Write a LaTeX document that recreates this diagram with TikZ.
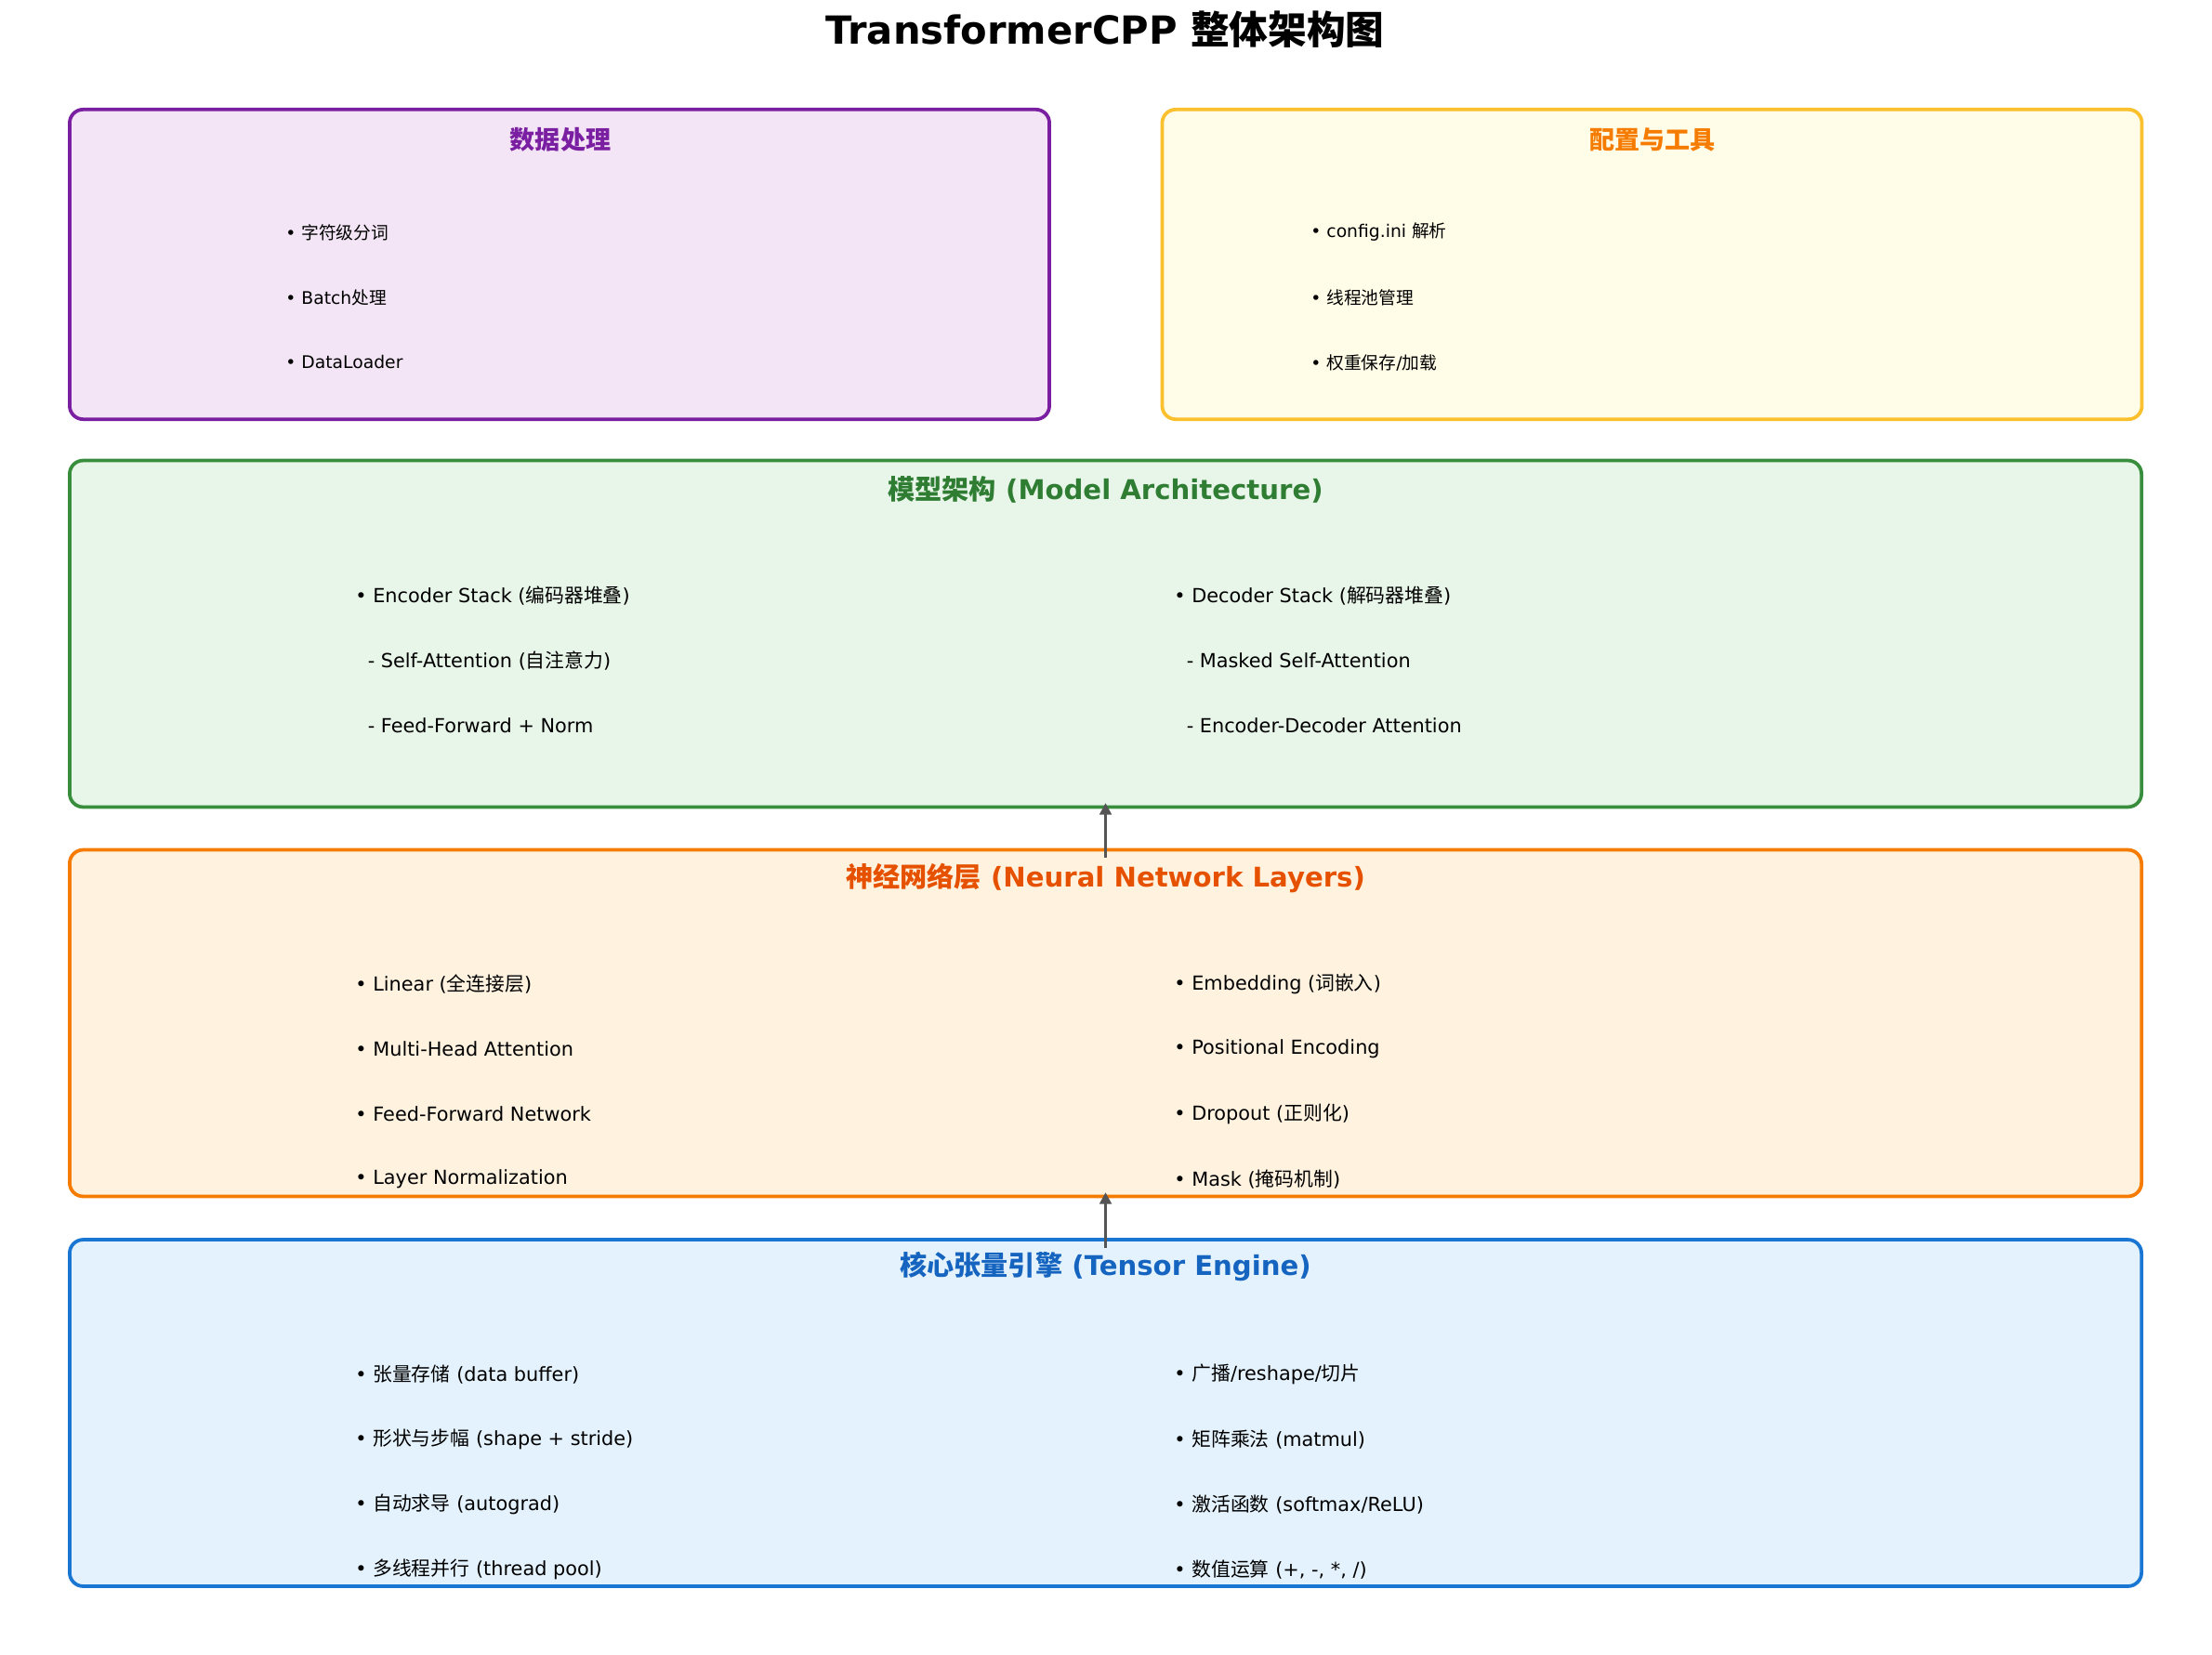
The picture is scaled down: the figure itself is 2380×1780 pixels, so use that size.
\documentclass[tikz,border=0pt]{standalone}
\usepackage{fontspec}
\setmainfont{DejaVu Sans}
\newfontfamily\cjk{Noto Sans CJK SC}
\newcommand{\zh}[1]{{\cjk #1}}
\usetikzlibrary{arrows.meta}

\definecolor{dataline}{HTML}{7B1FA2}
\definecolor{datafill}{HTML}{F3E5F5}
\definecolor{cfgline}{HTML}{FBC02D}
\definecolor{cfgfill}{HTML}{FFFDE7}
\definecolor{cfghead}{HTML}{F57C00}
\definecolor{modelline}{HTML}{388E3C}
\definecolor{modelfill}{HTML}{E8F5E9}
\definecolor{modelhead}{HTML}{2E7D32}
\definecolor{nnline}{HTML}{F57C00}
\definecolor{nnfill}{HTML}{FFF3E0}
\definecolor{nnhead}{HTML}{E65100}
\definecolor{tensorline}{HTML}{1976D2}
\definecolor{tensorfill}{HTML}{E3F2FD}
\definecolor{tensorhead}{HTML}{1565C0}
\definecolor{arrowgray}{HTML}{555555}

\tikzset{
  panel/.style n args={2}{draw=#1, fill=#2, line width=1.8pt, rounded corners=7pt, inner sep=0pt},
  toppanel/.style={minimum width=506pt, minimum height=160pt},
  widepanel/.style={minimum width=1070pt, minimum height=179pt},
  tophead/.style={font=\fontsize{13}{16}\selectfont\bfseries, text=#1},
  head/.style={font=\fontsize{14}{17}\selectfont\bfseries, text=#1},
  smallitem/.style={anchor=west, inner sep=0pt, font=\fontsize{9}{11}\selectfont},
  item/.style={anchor=west, inner sep=0pt, font=\fontsize{10}{12}\selectfont},
  flow/.style={-{Triangle[length=6pt,width=6pt]}, draw=arrowgray, fill=arrowgray, line width=1.9pt}
}

\begin{document}
\begin{tikzpicture}[x=0.48pt,y=-0.48pt]
\fill[white] (0,0) rectangle (2380,1780);
\useasboundingbox (0,0) rectangle (2380,1780);

% title
\node[font=\fontsize{20}{24}\selectfont\bfseries] (title) at (1189,32) {TransformerCPP \zh{整体架构图}};

% top row
\node[panel={dataline}{datafill}, toppanel] (data) at (602,284.5) {};
\node[tophead=dataline] (datahead) at (603,150) {\zh{数据处理}};
\foreach \t [count=\i] in {\zh{字符级分词}, Batch\zh{处理}, DataLoader}
  \node[smallitem] (data\i) at (307,{250+70*(\i-1)}) {• \t};

\node[panel={cfgline}{cfgfill}, toppanel] (cfg) at (1777.5,284.5) {};
\node[tophead=cfghead] (cfghead) at (1778,150) {\zh{配置与工具}};
\foreach \t [count=\i] in {config.ini \zh{解析}, \zh{线程池管理}, \zh{权重保存}/\zh{加载}}
  \node[smallitem] (cfg\i) at (1410,{250+70*(\i-1)}) {• \t};

% model architecture
\node[panel={modelline}{modelfill}, widepanel] (model) at (1189.5,682) {};
\node[head=modelhead] (modelhead) at (1189.5,527) {\zh{模型架构} (Model Architecture)};
\foreach \t [count=\i] in {{• Encoder Stack (\zh{编码器堆叠})},
    {\hspace*{0.64em}- Self-Attention (\zh{自注意力})},
    {\hspace*{0.64em}- Feed-Forward + Norm}}
  \node[item] (enc\i) at (382,{641+70*(\i-1)}) {\t};
\foreach \t [count=\i] in {{• Decoder Stack (\zh{解码器堆叠})},
    {\hspace*{0.64em}- Masked Self-Attention},
    {\hspace*{0.64em}- Encoder-Decoder Attention}}
  \node[item] (dec\i) at (1263,{641+70*(\i-1)}) {\t};

% neural network layers
\node[panel={nnline}{nnfill}, widepanel] (nn) at (1189.5,1101) {};
\node[head=nnhead] (nnhead) at (1189.5,945) {\zh{神经网络层} (Neural Network Layers)};
\foreach \t [count=\i] in {{Linear (\zh{全连接层})}, Multi-Head Attention, Feed-Forward Network, Layer Normalization}
  \node[item] (nnl\i) at (382,{1059+70*(\i-1)}) {• \t};
\foreach \t [count=\i] in {{Embedding (\zh{词嵌入})}, Positional Encoding, {Dropout (\zh{正则化})}, {Mask (\zh{掩码机制})}}
  \node[item] (nnr\i) at (1263,{1059+70*(\i-1)}) {• \t};

% tensor engine
\node[panel={tensorline}{tensorfill}, widepanel] (tensor) at (1189.5,1520.5) {};
\node[head=tensorhead] (tensorhead) at (1189.5,1363) {\zh{核心张量引擎} (Tensor Engine)};
\foreach \t [count=\i] in {{\zh{张量存储} (data buffer)}, {\zh{形状与步幅} (shape + stride)}, {\zh{自动求导} (autograd)}, {\zh{多线程并行} (thread pool)}}
  \node[item] (tl\i) at (382,{1479+70*(\i-1)}) {• \t};
\foreach \t [count=\i] in {{\zh{广播}/reshape/\zh{切片}}, {\zh{矩阵乘法} (matmul)}, {\zh{激活函数} (softmax/ReLU)}, {\zh{数值运算} (+, -, *, /)}}
  \node[item] (tr\i) at (1263,{1479+70*(\i-1)}) {• \t};

% arrows
\draw[flow] ([yshift=-5pt]tensor.north) -- ([yshift=3pt]nn.south);
\draw[flow] ([yshift=-5pt]nn.north) -- ([yshift=3pt]model.south);
\end{tikzpicture}
\end{document}
